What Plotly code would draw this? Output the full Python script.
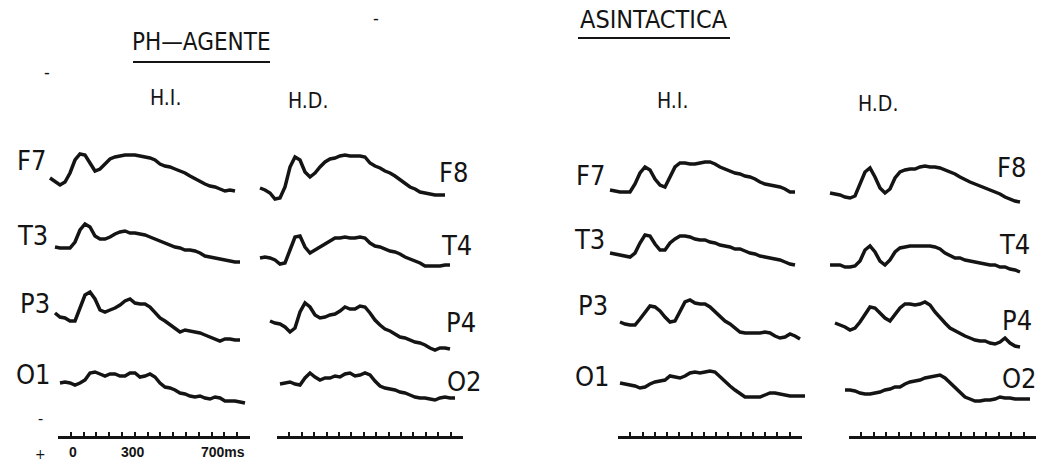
import plotly.graph_objects as go

W, H = 1050, 465
SAMPLE_MS = 25  # sampling interval of the averaged ERP traces (ms)

# ---------------- data: ERP amplitudes (a.u., positive up) ----------------
# PH-AGENTE, left hemisphere (H.I.)
ph_hi_start = {"F7": -100, "T3": -75, "P3": -75, "O1": -50}
ph_hi_F7 = [12, 8, 5, 8, 17, 30, 36, 35, 27, 19, 21, 26, 31, 33, 34, 35, 35, 35, 34, 33, 32, 30, 26, 24, 23, 21, 19, 17, 14, 11, 8, 6, 4, 3, 1, -1, 0, -1]
ph_hi_T3 = [13, 12, 12, 12, 18, 30, 36, 33, 24, 21, 21, 23, 26, 28, 29, 27, 27, 26, 25, 23, 21, 19, 17, 15, 13, 12, 10, 10, 9, 7, 4, 3, 2, 1, 0, -1, -2, -2]
ph_hi_P3 = [12, 8, 7, 4, 4, 18, 30, 33, 26, 15, 13, 15, 17, 20, 24, 26, 22, 21, 21, 18, 12, 7, 4, 0, -3, -7, -5, -6, -7, -8, -10, -12, -14, -16, -14, -14, -15, -15]
ph_hi_O1 = [7, 8, 7, 5, 7, 10, 17, 18, 16, 14, 16, 16, 14, 14, 17, 17, 13, 14, 16, 13, 7, 3, 2, 0, -3, -4, -6, -7, -6, -8, -9, -7, -8, -11, -11, -11, -12, -13]

# PH-AGENTE, right hemisphere (H.D.)
ph_hd_start = {"F8": -100, "T4": -100, "P4": -50, "O2": 0}
ph_hd_F8 = [2, 0, -3, -9, -8, 3, 23, 33, 30, 18, 13, 17, 23, 28, 31, 32, 34, 35, 34, 34, 34, 33, 27, 24, 22, 19, 17, 14, 10, 6, 3, 1, -2, -3, -4, -5, -5, -5]
ph_hd_T4 = [2, 3, 2, 0, -4, -3, 10, 23, 24, 13, 7, 10, 12, 15, 18, 22, 22, 23, 22, 22, 23, 22, 17, 14, 13, 11, 9, 8, 6, 3, 1, -1, -3, -6, -6, -6, -6, -5, -5]
ph_hd_P4 = [4, 2, 1, -2, -7, -3, 13, 22, 18, 10, 7, 8, 10, 11, 14, 18, 16, 16, 19, 18, 12, 5, 0, -4, -6, -9, -12, -13, -15, -17, -18, -20, -23, -25, -23, -23, -24]
ph_hd_O2 = [6, 7, 8, 6, 5, 12, 17, 13, 10, 12, 12, 14, 13, 16, 17, 14, 15, 17, 15, 9, 4, 2, 1, 0, -2, -3, -5, -7, -8, -8, -9, -10, -8, -7, -8, -8]

# ASINTACTICA, left hemisphere (H.I.)
as_hi_start = {"F7": -100, "T3": -100, "P3": -50, "O1": -50}
as_hi_F7 = [0, -1, -2, -2, -2, 6, 17, 23, 20, 11, 5, 3, 13, 23, 27, 27, 26, 26, 27, 28, 28, 26, 23, 21, 19, 17, 16, 14, 13, 11, 8, 6, 5, 4, 3, 1, -2, -2]
as_hi_T3 = [7, 6, 5, 4, 3, 7, 17, 25, 24, 16, 10, 10, 17, 21, 24, 24, 23, 21, 20, 20, 18, 17, 15, 14, 13, 11, 11, 9, 7, 6, 4, 3, 2, 1, 0, -2, -4, -5]
as_hi_P3 = [3, 1, 0, 0, 6, 13, 19, 18, 14, 8, 3, 4, 13, 23, 25, 22, 21, 21, 18, 13, 8, 4, 1, -3, -7, -8, -8, -8, -8, -7, -8, -11, -13, -12, -9, -11, -14]
as_hi_O1 = [7, 6, 5, 4, 2, 3, 6, 8, 9, 10, 14, 13, 12, 14, 17, 18, 17, 18, 19, 18, 13, 9, 4, 0, -4, -7, -7, -7, -7, -5, -3, -3, -4, -5, -6, -6, -6, -6]

# ASINTACTICA, right hemisphere (H.D.)
as_hd_start = {"F8": -100, "T4": -100, "P4": -75, "O2": -25}
as_hd_F8 = [-3, -4, -5, -7, -8, -6, 7, 18, 22, 13, 2, -3, 1, 12, 18, 20, 21, 21, 23, 24, 23, 23, 22, 20, 18, 16, 13, 10, 8, 6, 4, 2, 0, -2, -4, -7, -9, -11, -12]
as_hd_T4 = [-5, -5, -5, -7, -7, -6, -1, 10, 14, 8, -1, -5, 0, 8, 12, 13, 14, 14, 14, 14, 14, 13, 11, 7, 4, 2, 2, 0, -1, -2, -3, -4, -5, -5, -7, -7, -9, -10, -12]
as_hd_P4 = [2, 0, -2, -5, -3, 3, 11, 18, 17, 12, 7, 4, 10, 17, 21, 21, 20, 21, 23, 20, 13, 7, 2, -3, -6, -8, -11, -13, -15, -16, -16, -18, -19, -17, -13, -18, -21, -22]
as_hd_O2 = [0, 0, -1, -3, -4, -4, -3, -2, 0, 1, 3, 3, 6, 8, 9, 10, 12, 13, 14, 15, 12, 7, 2, -3, -7, -9, -11, -11, -10, -10, -9, -7, -8, -8, -9, -9, -9, -9]

left_electrodes = ["F7", "T3", "P3", "O1"]
right_electrodes = ["F8", "T4", "P4", "O2"]
conditions = ["PH—AGENTE", "ASINTACTICA"]
hemispheres = ["H.I.", "H.D."]
scale_labels = ["0", "300", "700ms"]
scale_label_ms = [0, 300, 700]

columns = [
    (ph_hi_start, [ph_hi_F7, ph_hi_T3, ph_hi_P3, ph_hi_O1], left_electrodes),
    (ph_hd_start, [ph_hd_F8, ph_hd_T4, ph_hd_P4, ph_hd_O2], right_electrodes),
    (as_hi_start, [as_hi_F7, as_hi_T3, as_hi_P3, as_hi_O1], left_electrodes),
    (as_hd_start, [as_hd_F8, as_hd_T4, as_hd_P4, as_hd_O2], right_electrodes),
]

# ---------------- layout geometry (pixels) ----------------
PX_PER_MS = 0.2
col_zero_px = [70, 280, 630, 850]          # x pixel of 0 ms for each column
X_RANGE = [-125, 925]
row_zero_px = [190, 260, 325, 390]          # y pixel of 0 amplitude for each row
Y_RANGE = [-30, 50]                         # 1 unit = 1 px

def px_x(p):
    return p / W

def px_y(p):
    return 1 - p / H

fig = go.Figure()
INK = "#141414"

for c, (starts, series, names) in enumerate(columns):
    for r, (name, vals) in enumerate(zip(names, series)):
        t0 = starts[name]
        times = [t0 + i * SAMPLE_MS for i in range(len(vals))]
        fig.add_trace(go.Scatter(
            x=times, y=vals, mode="lines",
            line=dict(color=INK, width=3.5),
            xaxis=f"x{c + 1}", yaxis=f"y{r + 1}",
            showlegend=False, hoverinfo="skip", name=f"{name}"))

layout = dict(width=W, height=H, margin=dict(l=0, r=0, t=0, b=0),
              paper_bgcolor="white", plot_bgcolor="rgba(0,0,0,0)",
              showlegend=False)

for c in range(4):
    x0 = col_zero_px[c] + X_RANGE[0] * PX_PER_MS
    x1 = col_zero_px[c] + X_RANGE[1] * PX_PER_MS
    layout[f"xaxis{c + 1 if c else ''}"] = dict(
        domain=[px_x(x0), px_x(x1)], range=X_RANGE, visible=False,
        anchor="y", fixedrange=True)
for r in range(4):
    yb = row_zero_px[r] - Y_RANGE[0]
    yt = row_zero_px[r] - Y_RANGE[1]
    layout[f"yaxis{r + 1 if r else ''}"] = dict(
        domain=[px_y(yb), px_y(yt)], range=Y_RANGE, visible=False,
        anchor="x", fixedrange=True)

# ---------------- time scale bars ----------------
bar_px = [(58, 250), (277, 463), (618, 802), (849, 1036)]
BAR_Y = 436
layout["yaxis5"] = dict(domain=[px_y(BAR_Y), px_y(BAR_Y - 15)], range=[0, 1],
                        visible=False, anchor="x5", fixedrange=True)
for i, (a, b) in enumerate(bar_px):
    n = 5 + i
    lo = -75
    hi = lo + (b - a) / PX_PER_MS
    step = (hi - lo) / 15
    layout[f"xaxis{n}"] = dict(
        domain=[px_x(a), px_x(b)], range=[lo, hi], anchor="y5",
        showline=True, linecolor=INK, linewidth=2.8, showgrid=False,
        zeroline=False, ticks="inside", ticklen=8, tickwidth=2.2, tickcolor=INK,
        tickvals=[lo, hi], showticklabels=False, fixedrange=True,
        minor=dict(ticks="inside", ticklen=4, tickwidth=2, tickcolor=INK,
                   dtick=step, tick0=lo, showgrid=False))
    fig.add_trace(go.Scatter(x=[lo, hi], y=[None, None], mode="lines",
                             xaxis=f"x{n}", yaxis="y5", showlegend=False,
                             hoverinfo="skip"))

fig.update_layout(**layout)

ann = []
FONT = "Liberation Sans Narrow, DejaVu Sans Condensed, Liberation Sans, Arial"

for lab, ms in zip(scale_labels, scale_label_ms):
    is_last = lab.endswith("ms")
    ann.append(dict(x=ms, y=0, xref="x5", yref="y5", text=f"<b>{lab}</b>",
                    showarrow=False, xanchor="left" if is_last else "center",
                    yanchor="top", yshift=-6, xshift=-14 if is_last else 0,
                    font=dict(family="Liberation Sans, Arial", size=14, color=INK)))

def txt(text, x, y, size, xanchor="center", family=FONT):
    ann.append(dict(x=px_x(x), y=px_y(y), xref="paper", yref="paper", text=text,
                    showarrow=False, xanchor=xanchor, yanchor="middle",
                    font=dict(family=family, size=size, color=INK)))

# condition titles
txt(conditions[0], 201, 42, 24)
txt(conditions[1], 654, 20, 25)
# hemisphere headers
txt(hemispheres[0], 165, 98, 21)
txt(hemispheres[1], 308, 101, 21)
txt(hemispheres[0], 672, 101, 21)
txt(hemispheres[1], 878, 104, 21)

# electrode labels
left_label_pos = [(48, 160), (50, 235), (52, 303), (53, 374)]
right_label_pos = [(437, 172), (439, 245), (444, 322), (445, 381)]
left2_label_pos = [(607, 176), (607, 239), (610, 305), (612, 376)]
right2_label_pos = [(995, 167), (997, 244), (1000, 320), (1000, 378)]
for name, (x, y) in zip(left_electrodes, left_label_pos):
    txt(name, x, y, 27, "right")
for name, (x, y) in zip(right_electrodes, right_label_pos):
    txt(name, x, y, 27, "left")
for name, (x, y) in zip(left_electrodes, left2_label_pos):
    txt(name, x, y, 27, "right")
for name, (x, y) in zip(right_electrodes, right2_label_pos):
    txt(name, x, y, 27, "left")

# polarity marks / stray marks
txt("-", 47, 72, 18)
txt("-", 376, 18, 18)
txt("-", 40, 418, 16)
txt("+", 40, 454, 14)

fig.update_layout(annotations=ann)

shapes = [
    dict(type="line", xref="paper", yref="paper", x0=px_x(133), x1=px_x(270),
         y0=px_y(62), y1=px_y(62), line=dict(color=INK, width=2)),
    dict(type="line", xref="paper", yref="paper", x0=px_x(578), x1=px_x(730),
         y0=px_y(38), y1=px_y(38), line=dict(color=INK, width=2)),
]
fig.update_layout(shapes=shapes)

fig.write_html("out.html",
               config={"displayModeBar": False, "staticPlot": True},
               post_script="document.body.style.margin='0px';document.body.style.padding='0px';")
